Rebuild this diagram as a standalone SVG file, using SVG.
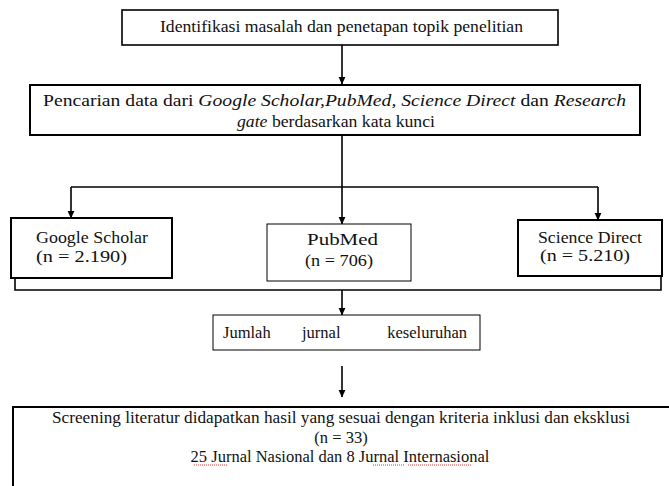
<svg xmlns="http://www.w3.org/2000/svg" width="669" height="486" viewBox="0 0 669 486">
<defs>
<marker id="ah" markerWidth="8" markerHeight="8" refX="7" refY="4" orient="auto" markerUnits="userSpaceOnUse">
<path d="M0,0.6 L7.5,4 L0,7.4 Z" fill="#000"/>
</marker>
</defs>
<style>
text{font-family:"Liberation Serif","Times New Roman",serif;font-size:16.5px;fill:#111;}
.b{fill:#fff;stroke:#000;}
.c{fill:none;stroke:#000;stroke-width:1.6;}
.sq{fill:none;stroke:#d22;stroke-width:0.9;stroke-dasharray:1 1;}
</style>
<rect width="669" height="486" fill="#fff"/>
<g id="connectors">
<line class="c" x1="342" y1="45" x2="342" y2="84" marker-end="url(#ah)"/>
<line class="c" x1="342" y1="135" x2="342" y2="224" marker-end="url(#ah)"/>
<line class="c" x1="71" y1="187" x2="598" y2="187"/>
<line class="c" x1="71" y1="187" x2="71" y2="218" marker-end="url(#ah)"/>
<line class="c" x1="598" y1="187" x2="598" y2="220" marker-end="url(#ah)"/>
<polyline class="c" points="15,278 15,290 661,290 661,276"/>
<line class="c" x1="342" y1="290" x2="342" y2="315" marker-end="url(#ah)"/>
<line class="c" x1="342" y1="366" x2="342" y2="397" marker-end="url(#ah)"/>
</g>
<g id="n1">
<rect class="b" x="122" y="10" width="436" height="35" stroke-width="1.6"/>
<text x="160" y="32" textLength="363" lengthAdjust="spacingAndGlyphs">Identifikasi masalah dan penetapan topik penelitian</text>
</g>
<g id="n2">
<rect class="b" x="30" y="85" width="610" height="50" stroke-width="2"/>
<text x="43" y="106" textLength="583" lengthAdjust="spacingAndGlyphs">Pencarian data dari <tspan font-style="italic">Google Scholar,PubMed, Science Direct</tspan> dan <tspan font-style="italic">Research</tspan></text>
<text x="237" y="127" textLength="198" lengthAdjust="spacingAndGlyphs"><tspan font-style="italic">gate</tspan> berdasarkan kata kunci</text>
</g>
<g id="n3">
<rect class="b" x="11" y="218" width="161" height="60" stroke-width="2"/>
<text x="36" y="243" textLength="112" lengthAdjust="spacingAndGlyphs">Google Scholar</text>
<text x="36" y="262" textLength="91" lengthAdjust="spacingAndGlyphs">(n = 2.190)</text>
</g>
<g id="n4">
<rect class="b" x="267" y="224" width="144" height="57" stroke-width="1"/>
<text x="307" y="245" textLength="71" lengthAdjust="spacingAndGlyphs">PubMed</text>
<text x="305" y="266" textLength="68" lengthAdjust="spacingAndGlyphs">(n = 706)</text>
</g>
<g id="n5">
<rect class="b" x="518" y="220" width="144" height="56" stroke-width="2"/>
<text x="538" y="243" textLength="104" lengthAdjust="spacingAndGlyphs">Science Direct</text>
<text x="540" y="261" textLength="90" lengthAdjust="spacingAndGlyphs">(n = 5.210)</text>
</g>
<g id="n6">
<rect class="b" x="213" y="315" width="267" height="35" stroke-width="1"/>
<text x="223" y="338">Jumlah</text>
<text x="302" y="338">jurnal</text>
<text x="467" y="338" text-anchor="end">keseluruhan</text>
</g>
<g id="n7">
<path d="M13,492 L13,407 L675,407" fill="#fff" stroke="#000" stroke-width="2"/>
<text x="52" y="423" textLength="578" lengthAdjust="spacingAndGlyphs">Screening literatur didapatkan hasil yang sesuai dengan kriteria inklusi dan eksklusi</text>
<text x="341" y="443" text-anchor="middle">(n = 33)</text>
<text x="340" y="462" text-anchor="middle">25 Jurnal Nasional dan 8 Jurnal Internasional</text>
<path class="sq" d="M194,465 L228,465 M373,465 L405,465 M408,465 L471,465"/>
</g>
</svg>
